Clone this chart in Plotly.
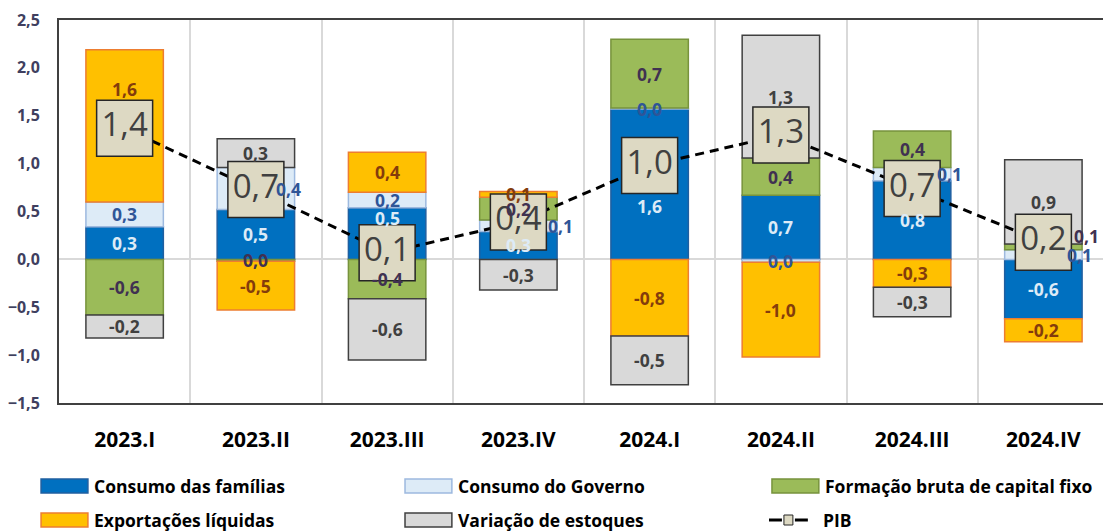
import plotly.graph_objects as go

categories = ["2023.I", "2023.II", "2023.III", "2023.IV", "2024.I", "2024.II", "2024.III", "2024.IV"]
consumo_familias = [0.34, 0.52, 0.54, 0.29, 1.57, 0.67, 0.82, -0.62]
consumo_governo = [0.26, 0.44, 0.16, 0.12, 0.01, -0.03, 0.14, 0.10]
fbcf = [-0.58, -0.02, -0.41, 0.24, 0.72, 0.39, 0.38, 0.06]
exportacoes = [1.59, -0.51, 0.42, 0.06, -0.80, -0.99, -0.29, -0.24]
estoques = [-0.24, 0.30, -0.64, -0.32, -0.51, 1.28, -0.31, 0.88]
pib = [1.37, 0.73, 0.07, 0.39, 0.98, 1.30, 0.74, 0.18]
y_ticks = [-1.5, -1.0, -0.5, 0.0, 0.5, 1.0, 1.5, 2.0, 2.5]

series_names = ["Consumo das famílias", "Consumo do Governo", "Formação bruta de capital fixo",
                "Exportações líquidas", "Variação de estoques"]
series_values = [consumo_familias, consumo_governo, fbcf, exportacoes, estoques]
fills = ["#0070C0", "#DDEBF7", "#9BBB59", "#FFC000", "#D9D9D9"]
borders = ["#1F5FA0", "#9DB9DF", "#77933C", "#ED7D31", "#404040"]
label_colors = ["#DDEBF7", "#2F5597", "#403151", "#843C0C", "#404040"]

FONT = "Open Sans"

# page body has an 8px margin: work in window pixels, convert to figure pixels
OFF = 8


def fmt(v):
    r = round(v, 1) + 0.0
    return f"{r:.1f}".replace(".", ",")


fig = go.Figure()
for name, vals, fc, bc in zip(series_names, series_values, fills, borders):
    fig.add_trace(go.Bar(x=categories, y=vals, name=name, width=0.59,
                         marker=dict(color=fc, line=dict(color=bc, width=1.5)),
                         showlegend=False, hoverinfo="skip"))

fig.add_trace(go.Scatter(x=categories, y=pib, name="PIB", mode="lines+markers+text",
                         line=dict(color="black", width=3, dash="9px,6px"),
                         marker=dict(symbol="square", size=56, color="#DDD9C3",
                                     line=dict(color="#262626", width=1.5)),
                         text=[fmt(v) for v in pib], textposition="middle center",
                         textfont=dict(family=FONT, size=33, color="#404040"),
                         showlegend=False, hoverinfo="skip"))

# label offsets (px) for a few crowded labels
offsets = {
    (3, 0): (0, 37),
    (1, 1): (33, 0),
    (0, 2): (0, 16),
    (1, 3): (42, 0),
    (0, 4): (0, -22),
    (1, 6): (37, 0),
    (1, 7): (36, 0),
    (2, 7): (43, 11),
}

annotations = []
pos_cum = [0.0] * len(categories)
neg_cum = [0.0] * len(categories)
for si, vals in enumerate(series_values):
    for ci, v in enumerate(vals):
        if v >= 0:
            base = pos_cum[ci]
            pos_cum[ci] += v
        else:
            base = neg_cum[ci]
            neg_cum[ci] += v
        dx, dy = offsets.get((si, ci), (0, 0))
        annotations.append(dict(x=categories[ci], y=base + v / 2, text=fmt(v), showarrow=False,
                                xshift=dx, yshift=dy,
                                font=dict(family=FONT, size=17.5, color=label_colors[si], weight="bold")))

# figure geometry (figure pixels)
W, H = 1111 - OFF, 531 - OFF
L, R = 58 - OFF, 0
T = 20 - OFF
B = H - (403 - OFF)
pw, ph = W - L - R, H - T - B


def px(x):  # window pixel -> paper x
    return (x - OFF - L) / pw


def py(y):  # window pixel -> paper y
    return (H - B - (y - OFF)) / ph


shapes = []
legend_items = [
    (0, 40, 486), (1, 405, 486), (2, 773, 486),
    (3, 40, 520), (4, 405, 520),
]
for si, lx, ly in legend_items:
    shapes.append(dict(type="rect", xref="paper", yref="paper",
                       x0=px(lx), x1=px(lx + 47), y0=py(ly + 7), y1=py(ly - 7),
                       fillcolor=fills[si], line=dict(color=borders[si], width=1.5)))
    annotations.append(dict(xref="paper", yref="paper", x=px(lx + 51), y=py(ly), xanchor="left",
                            yanchor="middle", showarrow=False, text=series_names[si],
                            font=dict(family=FONT, size=17.5, color="black", weight="bold")))
# PIB legend
shapes.append(dict(type="line", xref="paper", yref="paper", x0=px(770), x1=px(783), y0=py(520), y1=py(520),
                   line=dict(color="black", width=3)))
shapes.append(dict(type="line", xref="paper", yref="paper", x0=px(796), x1=px(809), y0=py(520), y1=py(520),
                   line=dict(color="black", width=3)))
shapes.append(dict(type="rect", xref="paper", yref="paper", x0=px(785), x1=px(794), y0=py(525), y1=py(515),
                   fillcolor="#DDD9C3", line=dict(color="#262626", width=1)))
annotations.append(dict(xref="paper", yref="paper", x=px(822), y=py(520), xanchor="left", yanchor="middle",
                        showarrow=False, text="PIB",
                        font=dict(family=FONT, size=17.5, color="black", weight="bold")))

fig.update_layout(
    width=W, height=H,
    margin=dict(l=L, r=R, t=T, b=B, pad=0),
    barmode="relative",
    separators=",.",
    plot_bgcolor="white", paper_bgcolor="white",
    annotations=annotations,
    shapes=shapes,
    showlegend=False,
    xaxis=dict(type="category", range=[-0.5, 7.5], tickson="boundaries", showgrid=True,
               gridcolor="#D9D9D9", gridwidth=2, showline=True, mirror=True, linecolor="#404040",
               linewidth=2, ticks="", ticklabelstandoff=17,
               tickfont=dict(family=FONT, size=21, color="black", weight="bold")),
    yaxis=dict(range=[-1.5, 2.5], tickvals=y_ticks, tickformat=".1f", showgrid=False,
               zeroline=True, zerolinecolor="#D9D9D9", zerolinewidth=2,
               showline=True, mirror=True, linecolor="#404040", linewidth=2, ticks="",
               ticklabelstandoff=14,
               tickfont=dict(family=FONT, size=16, color="#403F5F", weight="bold")),
)

fig.write_html("out.html")
